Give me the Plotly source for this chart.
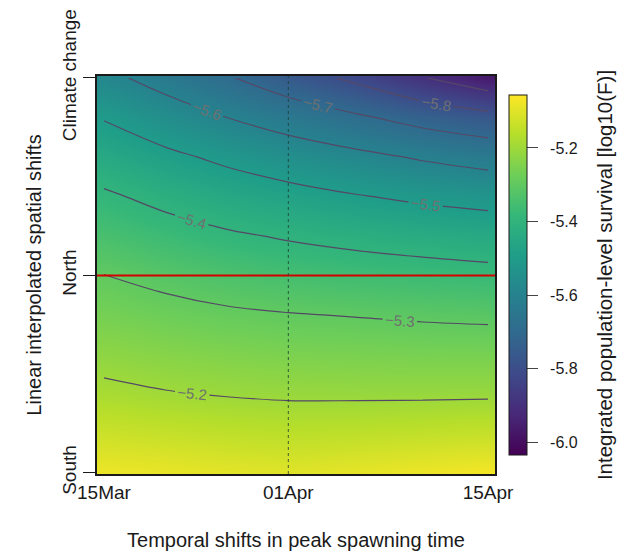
import plotly.graph_objects as go

# Temporal shift axis (fraction of the spawning window) and spatial shift axis
time_shift = [0.0, 0.16, 0.32, 0.48, 0.66, 0.83, 1.0]
space_shift = [0.0, 0.1, 0.2, 0.3, 0.4, 0.5, 0.6, 0.7, 0.8, 0.9, 1.0]

# Integrated population-level survival, log10(F); one row per spatial shift
log_survival = [
    [-5.080, -5.085, -5.095, -5.100, -5.090, -5.080, -5.070],
    [-5.132, -5.141, -5.150, -5.156, -5.152, -5.147, -5.141],
    [-5.183, -5.196, -5.204, -5.209, -5.210, -5.210, -5.209],
    [-5.225, -5.237, -5.246, -5.253, -5.256, -5.259, -5.260],
    [-5.262, -5.276, -5.289, -5.297, -5.303, -5.309, -5.313],
    [-5.299, -5.320, -5.338, -5.351, -5.361, -5.369, -5.377],
    [-5.344, -5.368, -5.390, -5.407, -5.423, -5.436, -5.447],
    [-5.389, -5.421, -5.450, -5.472, -5.496, -5.515, -5.530],
    [-5.445, -5.482, -5.517, -5.549, -5.579, -5.609, -5.635],
    [-5.505, -5.554, -5.600, -5.641, -5.688, -5.733, -5.769],
    [-5.578, -5.633, -5.691, -5.756, -5.820, -5.895, -5.964],
]

x_tick_vals = [0.0, 0.48, 1.0]
x_tick_text = ["15Mar", "01Apr", "15Apr"]
y_tick_vals = [0.0, 0.5, 1.0]
y_tick_text = ["South", "North", "Climate change"]
cbar_ticks = [-6.0, -5.8, -5.6, -5.4, -5.2]
cbar_tick_text = ["-6.0", "-5.8", "-5.6", "-5.4", "-5.2"]
z_limits = [-6.035, -5.056]
contour_levels = [-5.9, -5.2, 0.1]   # start, end, step

FONT = "Liberation Sans, Arial, Helvetica, sans-serif"
INK = "#1a1a1a"
NBSP = "\u00a0"

fig = go.Figure()

fig.add_trace(go.Heatmap(
    x=time_shift, y=space_shift, z=log_survival,
    colorscale="Viridis", zmin=z_limits[0], zmax=z_limits[1],
    zsmooth="best",
    colorbar=dict(
        x=1.035, xanchor="left", xpad=0,
        y=0.5, yanchor="middle", len=0.905, ypad=0,
        thickness=18,
        outlinewidth=1, outlinecolor=INK,
        tickvals=cbar_ticks,
        # padded labels: a little air after the tick marks and before the title
        ticktext=[NBSP * 2 + t + NBSP * 3 for t in cbar_tick_text],
        ticks="outside", ticklen=11, tickcolor="#444",
        tickfont=dict(family=FONT, size=16, color=INK),
        title=dict(text="Integrated population-level survival [log10(F)]",
                   side="right", font=dict(family=FONT, size=20.5, color=INK)),
    ),
))

fig.add_trace(go.Contour(
    x=time_shift, y=space_shift, z=log_survival,
    contours=dict(start=contour_levels[0], end=contour_levels[1], size=contour_levels[2],
                  coloring="none", showlabels=True,
                  labelfont=dict(family=FONT, size=15, color="#707070")),
    line=dict(color="#554866", width=1.2),
    showscale=False, hoverinfo="skip",
))

# Reference lines: North (spatial) and 01Apr (temporal)
fig.add_shape(type="line", xref="paper", x0=0, x1=1, yref="y",
              y0=y_tick_vals[1], y1=y_tick_vals[1],
              line=dict(color="#d40000", width=2))
fig.add_shape(type="line", xref="x", x0=x_tick_vals[1], x1=x_tick_vals[1],
              yref="paper", y0=0, y1=1,
              line=dict(color="rgba(30,60,50,0.8)", width=1, dash="dot"))

fig.update_layout(
    width=629, height=553,
    margin=dict(l=97, r=134, t=76, b=79, autoexpand=False),
    paper_bgcolor="white", plot_bgcolor="white",
    font=dict(family=FONT, size=19, color=INK),
    showlegend=False,
    xaxis=dict(
        range=[-0.018, 1.018], tickvals=x_tick_vals, ticktext=x_tick_text,
        ticks="", showgrid=False, zeroline=False, automargin=False,
        showline=True, mirror=True, linecolor=INK, linewidth=1.5,
        tickfont=dict(family=FONT, size=19, color=INK),
        title=dict(text="Temporal shifts in peak spawning time",
                   font=dict(family=FONT, size=20, color=INK), standoff=31),
    ),
    yaxis=dict(
        range=[-0.003, 1.005], tickvals=y_tick_vals, ticktext=y_tick_text,
        tickangle=-90, ticks="outside", ticklen=12, tickcolor=INK,
        showgrid=False, zeroline=False, automargin=False,
        showline=True, mirror=True, linecolor=INK, linewidth=1.5,
        tickfont=dict(family=FONT, size=19, color=INK),
        title=dict(text="Linear interpolated spatial shifts",
                   font=dict(family=FONT, size=20, color=INK), standoff=12),
    ),
)

fig.write_html("out.html")
